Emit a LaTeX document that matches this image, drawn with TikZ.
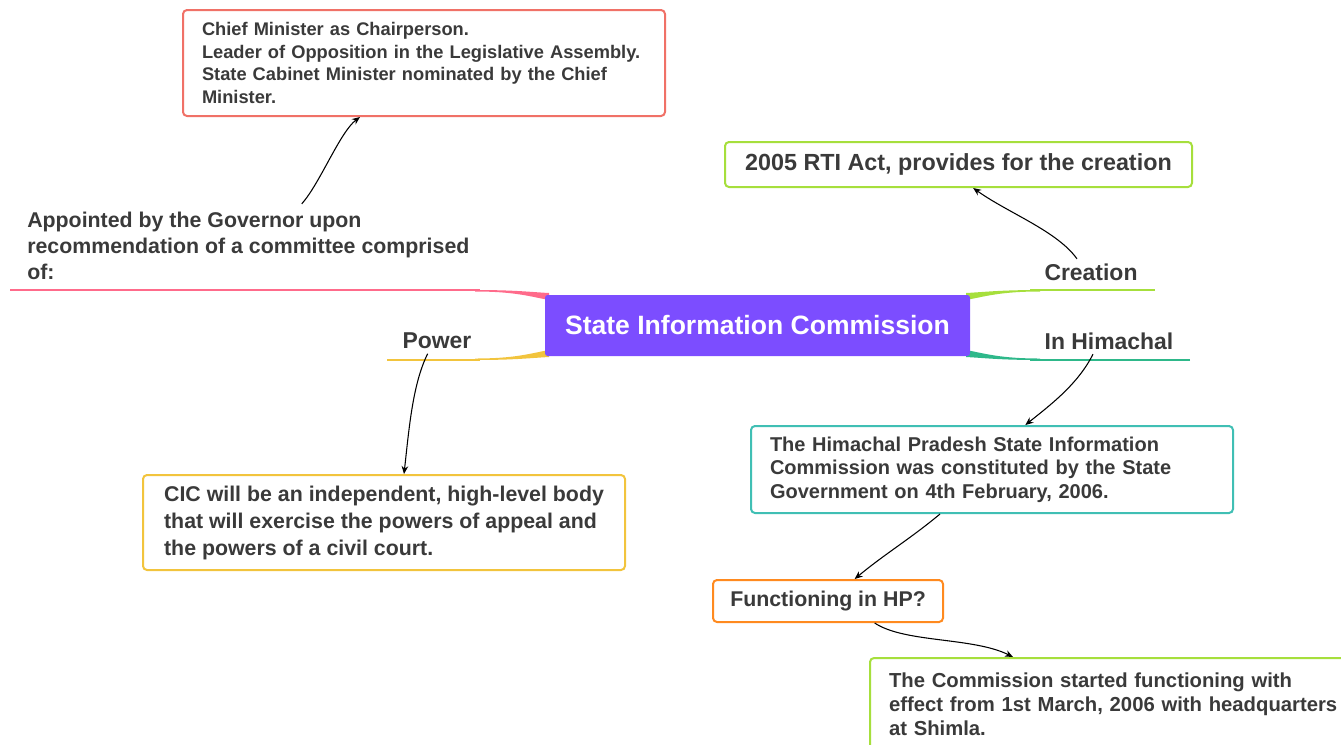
\documentclass[tikz,border=0pt]{standalone}
\usepackage{fontspec}
\setmainfont{Liberation Sans}
\usetikzlibrary{calc,arrows.meta}
\definecolor{sicviolet}{HTML}{7C4DFF}
\definecolor{sicpink}{HTML}{FF6B8B}
\definecolor{sicyellow}{HTML}{F2C43D}
\definecolor{siclime}{HTML}{A6DF3C}
\definecolor{sicteal}{HTML}{2EB88A}
\definecolor{boxred}{HTML}{F07167}
\definecolor{boxteal}{HTML}{40BFB4}
\definecolor{boxorange}{HTML}{FF8A1F}
\definecolor{txtgray}{HTML}{3A3A3A}
\tikzset{
	leafbox/.style={draw, line width=1.5pt, rounded corners=3pt, fill=white, text=txtgray, inner xsep=14.25pt, inner ysep=2pt},
	branchlabel/.style={text=txtgray, font=\bfseries\fontsize{17.2}{20}\selectfont},
	branch/.style={line width=1.5pt},
	link/.style={line width=0.8pt, -{Stealth[length=6pt,width=5pt]}}
}

\begin{document}
\begin{tikzpicture}[x=0.75pt, y=-0.75pt]
		%%%%% START %%%%%
		\useasboundingbox (0,0) rectangle (1341,744);
		
		% branches behind the centre
		\draw[branch, sicpink] (10,290) -- (480,290);
		\fill[sicpink] (475,290) .. controls (515,290) and (530,292) .. (549,293) -- (549,300) .. controls (530,296.5) and (515,291.5) .. (475,291.5) -- cycle;
		\draw[branch, sicyellow] (387,360) -- (480,360);
		\fill[sicyellow] (475,360) .. controls (515,360) and (530,358) .. (549,357) -- (549,350) .. controls (530,353.5) and (515,358.5) .. (475,358.5) -- cycle;
		\draw[branch, siclime] (1155,290) -- (1030,290);
		\fill[siclime] (1040,290) .. controls (1000,290) and (985,292) .. (966,293) -- (966,300) .. controls (985,296.5) and (1000,291.5) .. (1040,291.5) -- cycle;
		\draw[branch, sicteal] (1190,360) -- (1030,360);
		\fill[sicteal] (1040,360) .. controls (1000,360) and (985,358) .. (966,357) -- (966,350) .. controls (985,353.5) and (1000,358.5) .. (1040,358.5) -- cycle;
		
		\node[fill=sicviolet, rounded corners=2pt, minimum width=318.75pt, minimum height=45.75pt, text=white, font=\bfseries\fontsize{19.9}{24}\selectfont] (sic) at (757.5,325.5) {State Information Commission};
		
		% labels on the branches
		\node[text=txtgray, font=\bfseries\fontsize{16}{19.5}\selectfont, align=left, anchor=west, inner xsep=0pt, inner ysep=6pt] (appt) at (27,246) {Appointed by the Governor upon\\recommendation of a committee comprised\\of:};
		\node[branchlabel] (power) at (437,341) {Power};
		\node[branchlabel] (creation) at (1091,272) {Creation};
		\node[branchlabel] (himachal) at (1109,341) {In Himachal};
		
		% boxes
		\node[leafbox, draw=boxred, minimum width=361.5pt, minimum height=79.5pt, text width=333pt, align=left, font=\bfseries\fontsize{13.7}{17}\selectfont] (chief) at (424,63) {Chief Minister as Chairperson.\\Leader of Opposition in the Legislative Assembly.\\State Cabinet Minister nominated by the Chief\\Minister.};
		\node[leafbox, draw=siclime, minimum width=350.25pt, minimum height=33.75pt, font=\bfseries\fontsize{17.5}{21}\selectfont] (rti) at (958.5,164.5) {2005 RTI Act, provides for the creation};
		\node[leafbox, draw=sicyellow, minimum width=361.5pt, minimum height=71.25pt, inner xsep=8pt, align=left, font=\bfseries\fontsize{16}{20.25}\selectfont] (cic) at (384,522.5) {CIC will be an independent, high-level body\\that will exercise the powers of appeal and\\the powers of a civil court.};
		\node[leafbox, draw=boxteal, minimum width=361.5pt, minimum height=65.25pt, text width=333pt, align=left, font=\bfseries\fontsize{15}{17.6}\selectfont] (hp) at (992,469.5) {The Himachal Pradesh State Information\\Commission was constituted by the State\\Government on 4th February, 2006.};
		\node[leafbox, draw=boxorange, minimum width=172.5pt, minimum height=31.5pt, inner xsep=8pt, font=\bfseries\fontsize{16}{20}\selectfont] (func) at (828,601) {Functioning in HP?};
		\node[leafbox, draw=siclime, anchor=north west, minimum height=69pt, text width=340pt, align=left, font=\bfseries\fontsize{15.2}{18}\selectfont] (comm) at (869,657) {The Commission started functioning with\\effect from 1st March, 2006 with headquarters\\at Shimla.};
		
		% links
		\draw[link] ([xshift=40pt]appt.north) .. controls +(18,-20) and +(-20,15) .. ([xshift=-48pt]chief.south);
		\draw[link] ([xshift=-10.5pt]creation.north) .. controls +(-20,-28) and +(35,25) .. ([xshift=11pt]rti.south);
		\draw[link] ([xshift=-7pt]power.south) .. controls +(-15,30) and +(5,-45) .. ([xshift=15pt]cic.north);
		\draw[link] ([xshift=-12pt]himachal.south) .. controls +(-15,30) and +(25,-20) .. ([xshift=25pt]hp.north);
		\draw[link] ([xshift=-39pt]hp.south) .. controls +(-30,25) and +(30,-25) .. ([xshift=20pt]func.north);
		\draw[link] ([xshift=35pt]func.south) .. controls +(30,20) and +(-40,-20) .. ([xshift=108pt]comm.north west);
		
		%%%%% END %%%%%
	\end{tikzpicture}
\end{document}
